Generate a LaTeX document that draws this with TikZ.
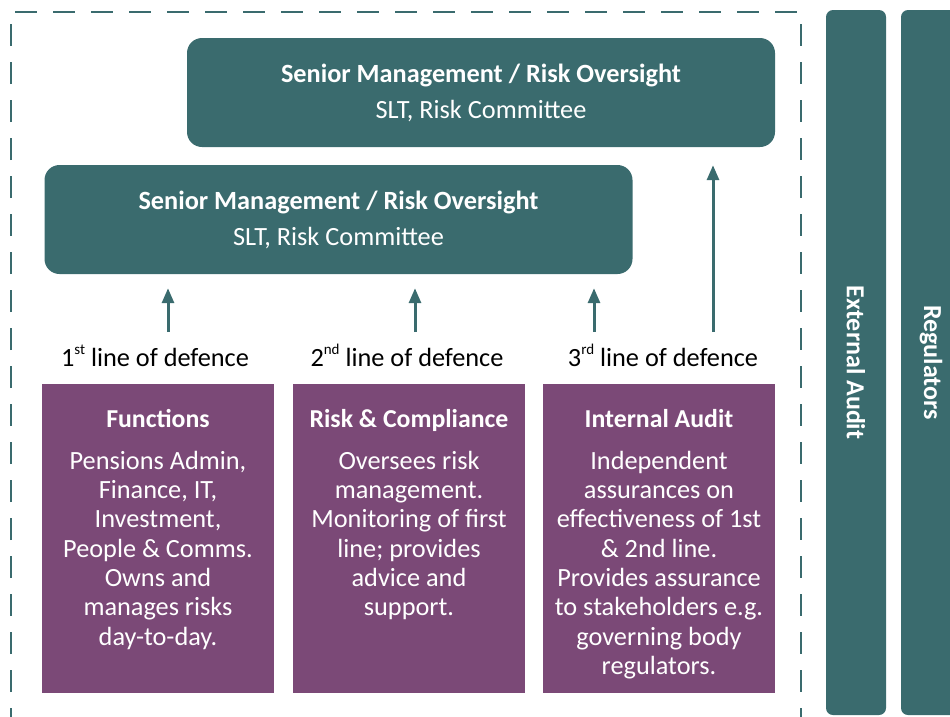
\documentclass[tikz,border=0pt]{standalone}
\usepackage{fontspec}
\setmainfont{Carlito}
\usepackage{tikz}
\usetikzlibrary{arrows.meta,positioning}
\definecolor{lodteal}{RGB}{58,107,110}
\definecolor{lodpurple}{RGB}{123,73,119}
\newcommand{\lodsup}[1]{\raisebox{0.42em}{\fontsize{15}{15}\selectfont #1}}
\tikzset{
  mgmt/.style={fill=lodteal,rounded corners=15pt,minimum width=588pt,minimum height=109pt,
    inner sep=0pt,text=white,align=center,font=\fontsize{26.3}{36}\selectfont},
  lodbox/.style={fill=lodpurple,minimum width=232pt,minimum height=309pt,inner sep=0pt},
  boxtitle/.style={anchor=base,text=white,font=\fontsize{25.8}{29}\selectfont\bfseries},
  boxbody/.style={anchor=north,inner sep=0pt,text=white,align=center,
    font=\fontsize{26.3}{29.3}\selectfont},
  lod/.style={anchor=base,font=\fontsize{26.3}{29}\selectfont},
  bar/.style={fill=lodteal,rounded corners=7pt,rotate=-90,minimum width=705pt,
    minimum height=60pt,inner sep=0pt,text=white,font=\fontsize{26}{28}\selectfont\bfseries}
}
\tikzstyle{arrow} = [line width=3pt,draw=lodteal,-{Triangle[length=15pt,width=12pt]}]

\begin{document}
\begin{tikzpicture}[x=1pt,y=-1pt]
  \clip (0,0) rectangle (950,716);
  \draw[lodteal,line width=2pt,dash pattern=on 22pt off 16pt] (11,730)--(11,12)--(801,12)--(801,730);
  % oversight boxes
  \node[mgmt] (top) at (481,92.5) {\textbf{Senior Management / Risk Oversight}\\ SLT, Risk Committee};
  \node[mgmt] (mid) at (338.5,219.5) {\textbf{Senior Management / Risk Oversight}\\ SLT, Risk Committee};
  % three lines
  \node[lodbox] (func) at (158,538.5) {};
  \node[lodbox] (risk) at (409,538.5) {};
  \node[lodbox] (audit) at (659,538.5) {};
  \node[lod] (lod1) at (155,366) {1\lodsup{st} line of defence};
  \node[lod] (lod2) at (407,366) {2\lodsup{nd} line of defence};
  \node[lod] (lod3) at (663,366) {3\lodsup{rd} line of defence};
  \node[boxtitle] (functitle) at (158,427) {Functions};
  \node[boxtitle] (risktitle) at (409,427) {Risk \& Compliance};
  \node[boxtitle] (audittitle) at (659,427) {Internal Audit};
  \node[boxbody] (funcbody) at (158,448.5) {\strut Pensions Admin,\\ Finance, IT,\\ Investment,\\
    People \& Comms.\\ Owns and\\ manages risks\\ day-to-day.};
  \node[boxbody] (riskbody) at (409,448.5) {\strut Oversees risk\\ management.\\ Monitoring of first\\
    line; provides\\ advice and\\ support.};
  \node[boxbody] (auditbody) at (659,448.5) {\strut Independent\\ assurances on\\ effectiveness of 1st\\
    \& 2nd line.\\ Provides assurance\\ to stakeholders e.g.\\ governing body\\ regulators.};
  % arrows
  \coordinate (a1) at (168,332);
  \coordinate (a2) at (415,332);
  \coordinate (a3) at (594,332);
  \coordinate (a4) at (713,332);
  \draw[arrow,shorten >=14pt] (a1) -- (a1 |- mid.south);
  \draw[arrow,shorten >=14pt] (a2) -- (a2 |- mid.south);
  \draw[arrow,shorten >=14pt] (a3) -- (a3 |- mid.south);
  \draw[arrow,shorten >=18pt] (a4) -- (a4 |- top.south);
  % outside bodies
  \node[bar] (extaudit) at (856,362.5) {External Audit};
  \node[bar] (regulators) at (931,362.5) {Regulators};
\end{tikzpicture}
\end{document}
